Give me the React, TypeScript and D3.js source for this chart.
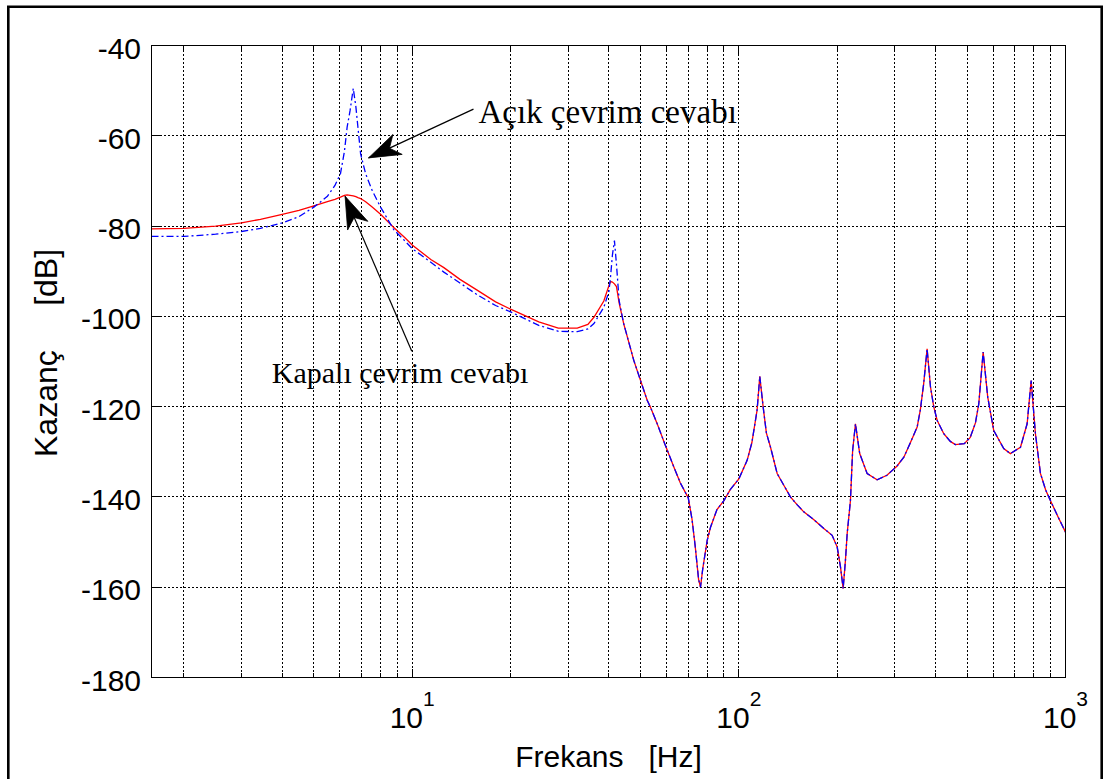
import React from 'react';
import * as d3 from 'd3';

// ---- data ----
const freqHz = [
  1.5915, 2.0, 2.5, 3.0, 3.43, 4.0, 4.5, 5.0, 5.5, 5.8, 6.03, 6.2, 6.32, 6.45, 6.6, 6.72, 6.82, 6.95, 7.2, 7.54,
  8.0, 8.78, 9.5, 10, 11.4, 12.5, 14, 15.8, 18, 20, 24.4, 28, 32, 34.5, 36, 38.6, 40.0, 40.5, 41.0, 41.6,
  42.2, 43.0, 44.4, 47.7, 52.4, 53.6, 56.1, 59.3, 63.1, 66.2, 70, 71.9, 73.5, 75.3, 76.3, 77.5, 80, 81.9, 85.7, 90,
  94.1, 100, 106, 109.6, 113.7, 115.9, 118.7, 121.4, 125, 131, 137, 143.8, 150.7, 158, 169.4, 182, 193, 200, 204.7, 208.6,
  212, 214.6, 219.6, 223, 227.5, 234.4, 247, 265, 284, 304.6, 320, 335, 351.5, 359.4, 368, 377, 386, 395, 404.5, 424,
  444, 460, 490, 511, 530, 542.6, 559.6, 578, 603, 647, 678, 728, 763, 785, 809, 838, 870, 899, 950, 1000,
];

const closedLoopDb = [
  -80.6, -80.5, -80.0, -79.3, -78.5, -77.4, -76.5, -75.5, -74.6, -74.1, -73.6, -73.2, -73.1, -73.2, -73.3, -73.5, -73.7, -73.9, -74.6, -75.8,
  -77.4, -80.3, -82.6, -84.2, -87.4, -89.2, -91.8, -94.2, -96.8, -98.4, -101.2, -102.6, -102.6, -101.8, -100.2, -96.6, -93.2, -92.3, -92.4, -92.8,
  -93.4, -97.0, -101.6, -109.8, -118.6, -120.1, -123.6, -128.2, -133.2, -136.9, -140.2, -145.0, -150.9, -158.3, -160, -156, -149.6, -146.7, -142.8, -140.8,
  -138.4, -136, -131.9, -128.0, -120.8, -113.3, -120.1, -125.8, -129, -134.8, -137.3, -140, -141.7, -143.3, -145.0, -147, -148.5, -151.1, -155.5, -160.3,
  -154, -148.1, -140.8, -129.7, -123.8, -130.4, -134.8, -136.2, -135.2, -133.2, -131.2, -128, -124.5, -120.7, -114.9, -107.2, -115.6, -120, -123, -126,
  -127.7, -128.4, -128.2, -126.8, -123.6, -119.4, -107.9, -117.9, -125.3, -129.3, -130.4, -129, -123.8, -114.2, -126, -134.8, -138.5, -140.8, -144.5, -147.8,
];

const openLoopDb = [
  -82.3, -82.3, -81.8, -81.2, -80.5, -79.3, -77.9, -75.8, -73.4, -71.0, -68.4, -63.5, -58.1, -54.5, -49.5, -53.5, -58.1, -64.0, -68.4, -72.1,
  -75.8, -80.8, -83.3, -85.0, -88.0, -90.2, -92.6, -95.2, -97.6, -99.0, -102.0, -103.3, -103.4, -102.8, -101.6, -98.0, -94.5, -91.0, -86.5, -83.2,
  -88.5, -96.5, -101.6, -109.8, -118.6, -120.1, -123.6, -128.2, -133.2, -136.9, -140.2, -145.0, -150.9, -158.3, -160, -156, -149.6, -146.7, -142.8, -140.8,
  -138.4, -136, -131.9, -128.0, -120.8, -113.3, -120.1, -125.8, -129, -134.8, -137.3, -140, -141.7, -143.3, -145.0, -147, -148.5, -151.1, -155.5, -160.3,
  -154, -148.1, -140.8, -129.7, -123.8, -130.4, -134.8, -136.2, -135.2, -133.2, -131.2, -128, -124.5, -120.7, -114.9, -107.2, -115.6, -120, -123, -126,
  -127.7, -128.4, -128.2, -126.8, -123.6, -119.4, -107.9, -117.9, -125.3, -129.3, -130.4, -129, -123.8, -114.2, -126, -134.8, -138.5, -140.8, -144.5, -147.8,
];

const yTicks = [-180, -160, -140, -120, -100, -80, -60, -40];
const xMajorTicks = [10, 100, 1000];
const xMajorExponents = ['1', '2', '3'];
const xDomain = [1.5915, 1000];
const yDomain = [-180, -40];

const xLabel = 'Frekans   [Hz]';
const yLabel = 'Kazanç     [dB]';

// annotations: text anchor + arrow tail + arrow tip, in data units (Hz, dB)
const annotations = [
  { text: 'Açık çevrim cevabı', textF: 15.95, textDb: -57.2, tailF: 15.4, tailDb: -54.1, tipF: 7.35, tipDb: -64.9, size: 33 },
  { text: 'Kapalı çevrim cevabı', textF: 3.715, textDb: -114.75, tailF: 9.97, tailDb: -107.75, tipF: 6.23, tipDb: -73.4, size: 30 },
];

const W = 1105;
const H = 779;
const PL = 151.5;
const PR = 1065.5;
const PT = 45.5;
const PB = 677.5;

function arrowHead(tx: number, ty: number, hx: number, hy: number, L: number, Wd: number) {
  const dx = hx - tx;
  const dy = hy - ty;
  const len = Math.sqrt(dx * dx + dy * dy);
  const ux = dx / len;
  const uy = dy / len;
  const nx = -uy;
  const ny = ux;
  const bx = hx - L * ux;
  const by = hy - L * uy;
  const mx = hx - 0.72 * L * ux;
  const my = hy - 0.72 * L * uy;
  return `M${hx},${hy}L${bx + Wd * nx},${by + Wd * ny}L${mx},${my}L${bx - Wd * nx},${by - Wd * ny}Z`;
}

const px = (v: number) => Math.round(v - 0.5) + 0.5;

export default function App() {
  const x = d3.scaleLog().domain(xDomain).range([PL, PR]);
  const y = d3.scaleLinear().domain(yDomain).range([PB, PT]);

  const minorTicks: number[] = [];
  for (const dec of [1, 10, 100]) {
    for (let k = 1; k <= 9; k++) {
      const v = dec * k;
      if (v > xDomain[0] && v < xDomain[1]) minorTicks.push(v);
    }
  }

  const pts = freqHz.map((f, i) => [f, closedLoopDb[i], openLoopDb[i]] as [number, number, number]);
  const lineClosed = d3.line<[number, number, number]>().x((d) => x(d[0])).y((d) => y(d[1]))(pts) || '';
  const lineOpen = d3.line<[number, number, number]>().x((d) => x(d[0])).y((d) => y(d[2]))(pts) || '';

  const sans = 'Liberation Sans, Arial, Helvetica, sans-serif';
  const serif = 'Liberation Serif, Times New Roman, serif';

  return (
    <svg width={W} height={H} style={{ position: 'fixed', left: 0, top: 0, background: '#fff' }}>
      <rect x={0} y={0} width={W} height={H} fill="#fff" />
      {/* outer figure frame */}
      <path d={`M8.3,790V6.7H1101.7V790`} fill="none" stroke="#000" strokeWidth={2.6} />

      {/* grid */}
      <g stroke="#000" strokeWidth={1} strokeDasharray="2,2" fill="none" shapeRendering="crispEdges">
        {minorTicks.map((v) => (
          <line key={'gx' + v} x1={px(x(v))} x2={px(x(v))} y1={PT} y2={PB} />
        ))}
        {yTicks.filter((v) => v !== -180 && v !== -40).map((v) => (
          <line key={'gy' + v} x1={PL} x2={PR} y1={px(y(v))} y2={px(y(v))} />
        ))}
      </g>

      {/* ticks */}
      <g stroke="#000" strokeWidth={1} shapeRendering="crispEdges">
        {minorTicks.map((v) => {
          const major = xMajorTicks.includes(v);
          const len = major ? 9 : 5;
          return (
            <g key={'tx' + v}>
              <line x1={px(x(v))} x2={px(x(v))} y1={PB} y2={PB - len} />
              <line x1={px(x(v))} x2={px(x(v))} y1={PT} y2={PT + len} />
            </g>
          );
        })}
        {yTicks.map((v) => (
          <g key={'ty' + v}>
            <line x1={PL} x2={PL + 9} y1={px(y(v))} y2={px(y(v))} />
            <line x1={PR} x2={PR - 9} y1={px(y(v))} y2={px(y(v))} />
          </g>
        ))}
      </g>

      {/* curves */}
      <path d={lineClosed} fill="none" stroke="#ff0000" strokeWidth={1.3} />
      <path d={lineOpen} fill="none" stroke="#0000ff" strokeWidth={1.3} strokeDasharray="7,3,2,3" />

      {/* axes box */}
      <rect x={PL} y={PT} width={PR - PL} height={PB - PT} fill="none" stroke="#000" strokeWidth={1.2} shapeRendering="crispEdges" />

      {/* y tick labels */}
      <g fontFamily={sans} fontSize={30} fill="#000" textAnchor="end">
        {yTicks.map((v) => (
          <text key={'yl' + v} x={141} y={y(v) + 13}>
            {String(v)}
          </text>
        ))}
      </g>

      {/* x tick labels */}
      <g fontFamily={sans} fontSize={30} fill="#000" textAnchor="middle">
        {xMajorTicks.map((v, i) => (
          <text key={'xl' + v} x={x(v)} y={PB + 50}>
            <tspan>10</tspan>
            <tspan dy={-22} fontSize={21}>
              {xMajorExponents[i]}
            </tspan>
          </text>
        ))}
      </g>

      {/* axis labels */}
      <text x={(PL + PR) / 2} y={767} fontFamily={sans} fontSize={30} textAnchor="middle" style={{ whiteSpace: 'pre' }}>
        {xLabel}
      </text>
      <text
        transform={`translate(57,457) rotate(-90)`}
        fontFamily={sans}
        fontSize={32}
        textAnchor="start"
        style={{ whiteSpace: 'pre' }}
      >
        {yLabel}
      </text>

      {/* annotations */}
      {annotations.map((a, i) => {
        const tx = x(a.tailF);
        const ty = y(a.tailDb);
        const hx = x(a.tipF);
        const hy = y(a.tipDb);
        return (
          <g key={'an' + i}>
            <line x1={tx} y1={ty} x2={hx} y2={hy} stroke="#000" strokeWidth={1.2} />
            <path d={arrowHead(tx, ty, hx, hy, 32, 11)} fill="#000" stroke="#000" strokeWidth={0.8} />
            <text x={x(a.textF)} y={y(a.textDb)} fontFamily={serif} fontSize={a.size} fill="#000">
              {a.text}
            </text>
          </g>
        );
      })}
    </svg>
  );
}
